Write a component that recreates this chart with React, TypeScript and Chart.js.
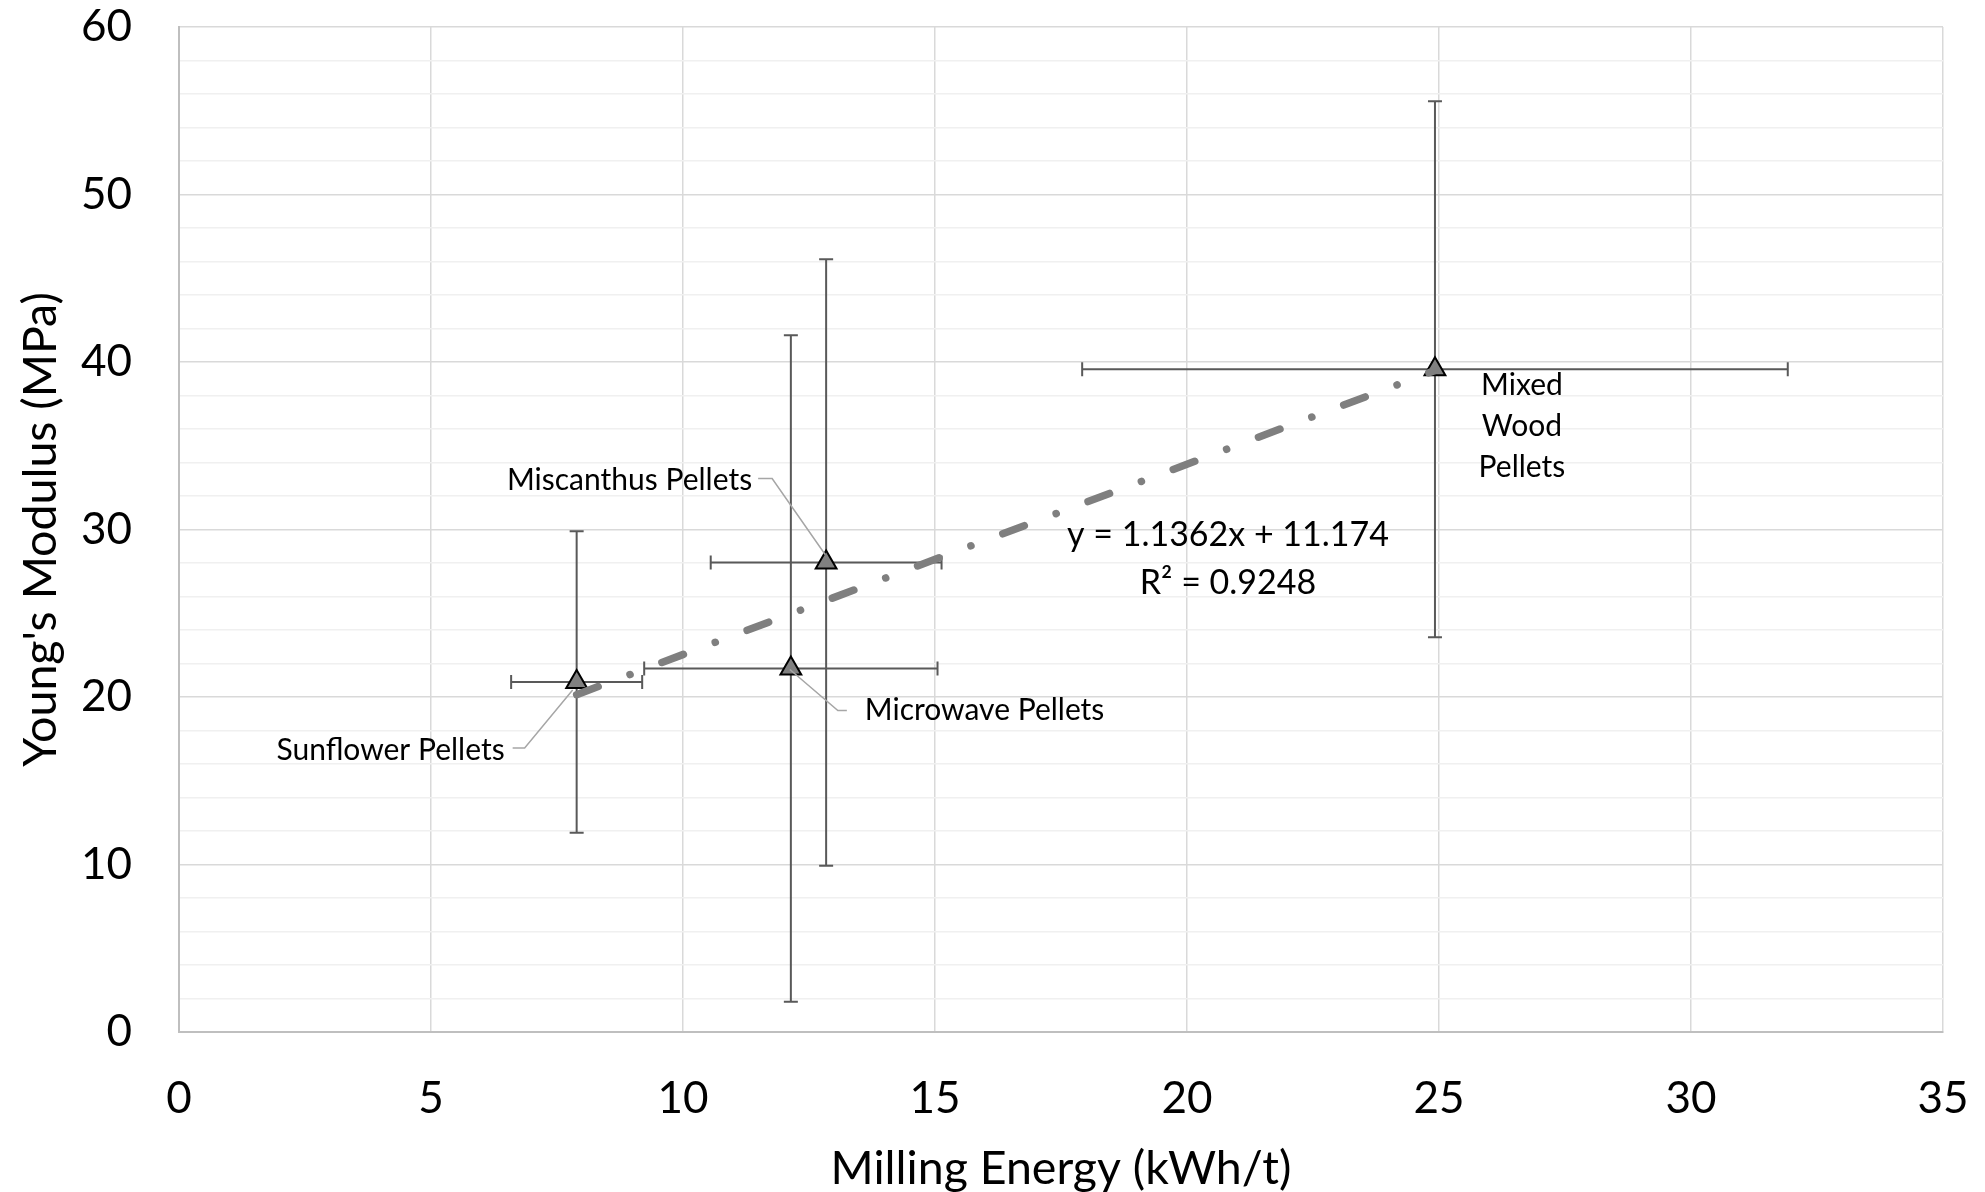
import React, { useEffect, useRef } from 'react';
import { Chart, registerables } from 'chart.js';

Chart.register(...registerables);

// ---- data ----
const pelletNames = ['Sunflower Pellets', 'Microwave Pellets', 'Miscanthus Pellets', 'Mixed Wood Pellets'];
const millingEnergy = [7.89, 12.14, 12.84, 24.92];
const youngsModulus = [20.9, 21.7, 28.03, 39.57];
const energyError = [1.3, 2.91, 2.29, 7.0];
const modulusError = [9.0, 19.9, 18.1, 16.0];
const trendSlope = 1.1362;
const trendIntercept = 11.174;
const trendR2 = 0.9248;
const xTickValues = [0, 5, 10, 15, 20, 25, 30, 35];
const yTickValues = [0, 10, 20, 30, 40, 50, 60];
const xTitle = 'Milling Energy (kWh/t)';
const yTitle = "Young's Modulus (MPa)";

// ---- styles / layout ----
const FONT = 'Lato';
const W = 1985;
const H = 1192;

type LabelLayout = {
  align: CanvasTextAlign;
  dx: number;
  dy: number;
  wrap: boolean;
  leader: number[][] | null;
};

const labelLayouts: LabelLayout[] = [
  { align: 'right', dx: -72, dy: 68, wrap: false, leader: [[-64, 66], [-52, 66], [-4, 8]] },
  { align: 'left', dx: 74, dy: 42, wrap: false, leader: [[56, 42], [47, 42], [-1, 1]] },
  { align: 'right', dx: -74, dy: -82, wrap: false, leader: [[-68, -84], [-54, -84], [-1, -8]] },
  { align: 'center', dx: 87, dy: 16, wrap: true, leader: null },
];

const errorBarPlugin = {
  id: 'errorBars',
  beforeDatasetsDraw(chart: any) {
    const { ctx, scales } = chart;
    const xs = scales.x;
    const ys = scales.y;
    const CAP = 7;
    ctx.save();
    ctx.strokeStyle = '#595959';
    ctx.lineWidth = 2;
    millingEnergy.forEach((xv, i) => {
      const yv = youngsModulus[i];
      const px = xs.getPixelForValue(xv);
      const py = ys.getPixelForValue(yv);
      const x0 = xs.getPixelForValue(xv - energyError[i]);
      const x1 = xs.getPixelForValue(xv + energyError[i]);
      const y0 = ys.getPixelForValue(yv - modulusError[i]);
      const y1 = ys.getPixelForValue(yv + modulusError[i]);
      ctx.beginPath();
      ctx.moveTo(x0, py);
      ctx.lineTo(x1, py);
      ctx.moveTo(x0, py - CAP);
      ctx.lineTo(x0, py + CAP);
      ctx.moveTo(x1, py - CAP);
      ctx.lineTo(x1, py + CAP);
      ctx.moveTo(px, y0);
      ctx.lineTo(px, y1);
      ctx.moveTo(px - CAP, y0);
      ctx.lineTo(px + CAP, y0);
      ctx.moveTo(px - CAP, y1);
      ctx.lineTo(px + CAP, y1);
      ctx.stroke();
    });
    ctx.restore();
  },
};

const labelPlugin = {
  id: 'pointLabels',
  afterDatasetsDraw(chart: any) {
    const { ctx, scales, chartArea } = chart;
    const xs = scales.x;
    const ys = scales.y;
    ctx.save();
    ctx.font = `30px ${FONT}`;
    ctx.fillStyle = '#000';
    ctx.textBaseline = 'middle';
    pelletNames.forEach((name, i) => {
      const lay = labelLayouts[i];
      const px = xs.getPixelForValue(millingEnergy[i]);
      const py = ys.getPixelForValue(youngsModulus[i]);
      if (lay.leader) {
        ctx.strokeStyle = '#a6a6a6';
        ctx.lineWidth = 1.5;
        ctx.beginPath();
        lay.leader.forEach((p, k) => {
          if (k === 0) ctx.moveTo(px + p[0], py + p[1]);
          else ctx.lineTo(px + p[0], py + p[1]);
        });
        ctx.stroke();
      }
      ctx.textAlign = lay.align;
      const lines = lay.wrap ? name.split(' ') : [name];
      lines.forEach((ln, k) => {
        ctx.fillText(ln, px + lay.dx, py + lay.dy + k * 41);
      });
    });
    // trendline equation
    ctx.font = `34px ${FONT}`;
    ctx.textAlign = 'center';
    const ex = chartArea.left + 1049;
    const ey = chartArea.top + 508;
    ctx.fillText(`y = ${trendSlope}x + ${trendIntercept}`, ex, ey);
    ctx.fillText(`R\u00B2 = ${trendR2}`, ex, ey + 48);
    ctx.restore();
  },
};

export default function App() {
  const ref = useRef<HTMLCanvasElement>(null);
  useEffect(() => {
    const canvas = ref.current;
    if (!canvas) return;
    const points = millingEnergy.map((x, i) => ({ x, y: youngsModulus[i] }));
    const xMin = Math.min(...millingEnergy);
    const xMax = Math.max(...millingEnergy);
    const trendPts = [xMin, xMax].map((x) => ({ x, y: trendSlope * x + trendIntercept }));
    const chart = new Chart(canvas, {
      type: 'scatter',
      data: {
        datasets: [
          {
            type: 'line',
            label: 'Linear trend',
            data: trendPts,
            borderColor: '#7f7f7f',
            borderWidth: 7.5,
            borderDash: [23, 34, 0.1, 34],
            borderCapStyle: 'round',
            pointRadius: 0,
            fill: false,
            tension: 0,
            order: 0,
          } as any,
          {
            type: 'scatter',
            label: 'Pellets',
            data: points,
            pointStyle: 'triangle',
            pointRadius: 12,
            backgroundColor: '#808080',
            borderColor: '#000',
            borderWidth: 2,
            order: 1,
          } as any,
        ],
      },
      options: {
        responsive: false,
        animation: false,
        devicePixelRatio: 1,
        layout: { padding: { top: 27, right: 42, left: 0, bottom: 0 } },
        plugins: { legend: { display: false }, tooltip: { enabled: false } },
        scales: {
          x: {
            type: 'linear',
            min: xTickValues[0],
            max: xTickValues[xTickValues.length - 1],
            afterFit: (s: any) => {
              s.height = H - 1032;
              s.paddingLeft = 0;
              s.paddingRight = 0;
            },
            ticks: {
              stepSize: xTickValues[1] - xTickValues[0],
              padding: 40,
              color: '#000',
              font: { family: FONT, size: 44 },
            },
            grid: { color: '#d9d9d9', lineWidth: 1.5, drawTicks: false },
            border: { display: true, color: '#bfbfbf', width: 2 },
            title: {
              display: true,
              text: xTitle,
              color: '#000',
              font: { family: FONT, size: 46.5, lineHeight: 1.0 },
              padding: { top: 0, bottom: 0 },
            },
          },
          y: {
            type: 'linear',
            min: yTickValues[0],
            max: yTickValues[yTickValues.length - 1],
            afterFit: (s: any) => {
              s.width = 179;
              s.paddingTop = 0;
              s.paddingBottom = 0;
            },
            ticks: {
              stepSize: 2,
              autoSkip: false,
              padding: 47,
              color: '#000',
              font: { family: FONT, size: 44 },
              callback: (v: any) => (yTickValues.includes(Number(v)) ? String(v) : ''),
            },
            grid: {
              color: (c: any) => (yTickValues.includes(c.tick?.value) ? '#d9d9d9' : '#f0f0f0'),
              lineWidth: 1.5,
              drawTicks: false,
            },
            border: { display: true, color: '#bfbfbf', width: 2 },
            title: {
              display: true,
              text: yTitle,
              color: '#000',
              font: { family: FONT, size: 46.5, lineHeight: 1.2 },
              padding: { top: 13, bottom: 0 },
            },
          },
        },
      },
      plugins: [errorBarPlugin, labelPlugin],
    });
    return () => chart.destroy();
  }, []);
  return (
    <div style={{ position: 'fixed', left: 0, top: 0, width: W, height: H, background: '#fff' }}>
      <canvas ref={ref} width={W} height={H} style={{ display: 'block' }} />
    </div>
  );
}
